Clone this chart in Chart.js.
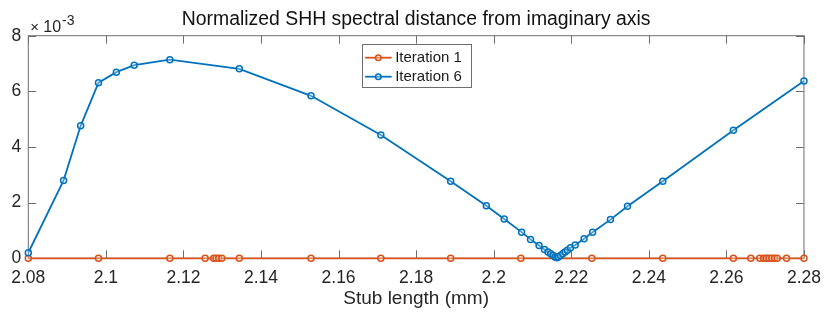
<!DOCTYPE html>
<html><head><meta charset="utf-8">
<script src="https://cdn.jsdelivr.net/npm/chart.js@4"></script>
<style>html,body{margin:0;padding:0;background:#fff}#wrap{width:830px;height:318px}</style>
</head><body><div id="wrap"><canvas id="c" width="830" height="318"></canvas></div>
<script>
// ---- data (y values in units of 1e-3) ----
const seriesNames = ['Iteration 1', 'Iteration 6'];
const iter1X = [2.0800, 2.0981, 2.1165, 2.1256, 2.1278, 2.1284, 2.1291, 2.1299, 2.1344, 2.1529,
                2.1709, 2.1889, 2.2070, 2.2253, 2.2436, 2.2618, 2.2663, 2.2686, 2.2696, 2.2703,
                2.2710, 2.2717, 2.2724, 2.2731, 2.2755, 2.2800];
const iter1Y = [0, 0, 0, 0, 0, 0, 0, 0, 0, 0, 0, 0, 0, 0, 0, 0, 0, 0, 0, 0, 0, 0, 0, 0, 0, 0];
const iter6X = [2.0800, 2.0891, 2.0935, 2.0981, 2.1027, 2.1073, 2.1165, 2.1344, 2.1529, 2.1709,
                2.1889, 2.1981, 2.2027, 2.2072, 2.2095, 2.2117, 2.2131, 2.2140, 2.2147, 2.2153,
                2.2158, 2.2163, 2.2167, 2.2172, 2.2178, 2.2184, 2.2190, 2.2198, 2.2210, 2.2233,
                2.2255, 2.2301, 2.2345, 2.2436, 2.2618, 2.2800];
const iter6Y = [0.20, 2.80, 4.76, 6.31, 6.69, 6.94, 7.14, 6.81, 5.84, 4.43,
                2.77, 1.89, 1.41, 0.94, 0.68, 0.46, 0.32, 0.23, 0.16, 0.10,
                0.05, 0.02, 0.05, 0.10, 0.16, 0.23, 0.29, 0.38, 0.48, 0.70,
                0.94, 1.39, 1.87, 2.77, 4.60, 6.37];
const xTicks = [2.08, 2.10, 2.12, 2.14, 2.16, 2.18, 2.20, 2.22, 2.24, 2.26, 2.28];
const yTicks = [0, 2, 4, 6, 8];
const yExponentText = '-3';
const titleText = 'Normalized SHH spectral distance from imaginary axis';
const xLabelText = 'Stub length (mm)';

const FONT = "'Liberation Sans', Arial, Helvetica, sans-serif";
const TXT = '#262626';
const AXC = '#6e6e6e';
const colors = ['#D95319', '#0072BD'];
const MARKER_FILL = 'rgba(255,255,255,0.3)';

const toPts = (xs, ys) => xs.map((x, i) => ({x: x, y: ys[i]}));

const boxPlugin = {
  id: 'matlabBox',
  beforeDatasetsDraw(chart) {
    const {ctx, chartArea: a, scales: {x, y}} = chart;
    ctx.save();
    // title, centred on the plot area
    ctx.fillStyle = '#111';
    ctx.font = '19.4px ' + FONT;
    ctx.textAlign = 'center'; ctx.textBaseline = 'middle';
    ctx.fillText(titleText, (a.left + a.right) / 2, 20);
    // box and inward ticks
    ctx.strokeStyle = AXC; ctx.lineWidth = 1;
    ctx.strokeRect(a.left, a.top, a.right - a.left, a.bottom - a.top);
    ctx.beginPath();
    xTicks.forEach(v => {
      const p = Math.round(x.getPixelForValue(v)) + 0.5;
      ctx.moveTo(p, a.bottom); ctx.lineTo(p, a.bottom - 8);
      ctx.moveTo(p, a.top); ctx.lineTo(p, a.top + 8);
    });
    yTicks.forEach(v => {
      const p = Math.round(y.getPixelForValue(v)) + 0.5;
      ctx.moveTo(a.left, p); ctx.lineTo(a.left + 8, p);
      ctx.moveTo(a.right, p); ctx.lineTo(a.right - 8, p);
    });
    ctx.stroke();
    // exponent label
    ctx.fillStyle = TXT;
    ctx.textBaseline = 'alphabetic'; ctx.textAlign = 'left';
    ctx.font = '15px ' + FONT;
    ctx.fillText('\u00d7', a.left + 2, a.top - 4);
    ctx.font = '16px ' + FONT;
    ctx.fillText('10', a.left + 15, a.top - 4);
    const w = ctx.measureText('10').width;
    ctx.font = '14px ' + FONT;
    ctx.fillText(yExponentText, a.left + 15 + w + 1, a.top - 10.5);
    ctx.restore();
  },
  afterDraw(chart) {
    const {ctx, chartArea: a} = chart;
    const bw = 109, bh = 43;
    const bx = (a.left + a.right) / 2 - bw / 2;
    const by = a.top + 8.5;
    ctx.save();
    ctx.fillStyle = '#fff';
    ctx.fillRect(bx, by, bw, bh);
    ctx.strokeStyle = AXC; ctx.lineWidth = 1;
    ctx.strokeRect(Math.round(bx) + 0.5, Math.round(by) + 0.5, bw, bh);
    ctx.font = '15px ' + FONT;
    ctx.textBaseline = 'middle'; ctx.textAlign = 'left';
    chart.data.datasets.forEach((ds) => {
      const idx = seriesNames.indexOf(ds.label);
      const ry = by + 13.5 + idx * 19;
      ctx.strokeStyle = ds.borderColor; ctx.lineWidth = 1.8;
      ctx.beginPath(); ctx.moveTo(bx + 3.5, ry); ctx.lineTo(bx + 30, ry); ctx.stroke();
      ctx.beginPath(); ctx.arc(bx + 16.7, ry, 2.8, 0, Math.PI * 2);
      ctx.fillStyle = MARKER_FILL; ctx.fill();
      ctx.lineWidth = 1.5; ctx.stroke();
      ctx.fillStyle = '#1a1a1a';
      ctx.fillText(ds.label, bx + 33.5, ry + 0.5);
    });
    ctx.restore();
  }
};

const mkDs = (label, pts, color, order) => ({
  label: label, data: pts, showLine: true, borderColor: color, borderWidth: 1.8,
  pointRadius: 3, pointBorderWidth: 1.5, pointBorderColor: color,
  pointBackgroundColor: MARKER_FILL, pointStyle: 'circle',
  clip: 6, order: order, tension: 0
});

new Chart(document.getElementById('c'), {
  type: 'scatter',
  data: {
    datasets: [
      mkDs(seriesNames[0], toPts(iter1X, iter1Y), colors[0], 1),
      mkDs(seriesNames[1], toPts(iter6X, iter6Y), colors[1], 0)
    ]
  },
  plugins: [boxPlugin],
  options: {
    responsive: false, animation: false, devicePixelRatio: 1,
    layout: {padding: {top: 35.7, right: 23.3, left: 0, bottom: 0}},
    plugins: {
      legend: {display: false},
      tooltip: {enabled: false},
      title: {display: false}
    },
    scales: {
      x: {
        type: 'linear', min: 2.08, max: 2.28,
        afterBuildTicks: s => { s.ticks = xTicks.map(v => ({value: v})); },
        afterFit: s => { s.height = 59.7; },
        grid: {display: false, drawTicks: false}, border: {display: false},
        ticks: {
          color: TXT, font: {family: FONT, size: 17.5}, padding: 9,
          maxRotation: 0, autoSkip: false,
          callback: v => String(+(+v).toFixed(2))
        },
        title: {
          display: true, text: xLabelText, color: TXT,
          font: {family: FONT, size: 19, lineHeight: 1.2},
          padding: {top: 0, bottom: 8}
        }
      },
      y: {
        type: 'linear', min: 0, max: 8,
        afterBuildTicks: s => { s.ticks = yTicks.map(v => ({value: v})); },
        afterFit: s => { s.width = 28.3; },
        grid: {display: false, drawTicks: false}, border: {display: false},
        ticks: {color: TXT, font: {family: FONT, size: 17.5}, padding: 7, callback: v => String(v)}
      }
    }
  }
});
</script>
</body></html>
